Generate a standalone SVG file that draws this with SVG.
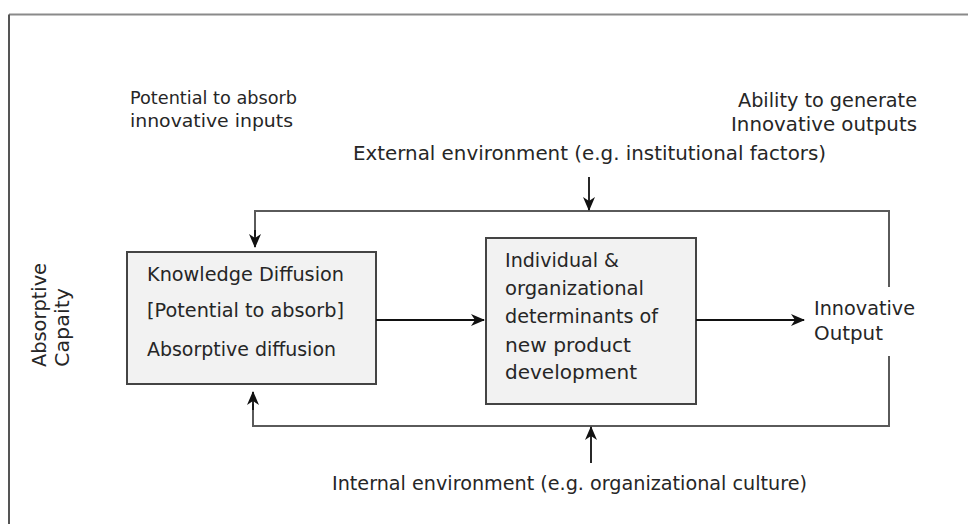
<svg xmlns="http://www.w3.org/2000/svg" width="968" height="524" viewBox="0 0 968 524">
  <defs>
    <style>
      text { font-family: "DejaVu Sans", "Liberation Sans", sans-serif; font-size: 19.2px; fill: #262626; }
      .small { font-size: 18px; }
      .box { fill: #f2f2f2; stroke: #444; stroke-width: 2; }
      .loop { fill: none; stroke: #5a5a5a; stroke-width: 2; }
      .arrow { fill: none; stroke: #111; stroke-width: 1.8; marker-end: url(#head); }
    </style>
    <marker id="head" viewBox="0 0 14 12" refX="13" refY="6" markerWidth="14" markerHeight="12" markerUnits="userSpaceOnUse" orient="auto">
      <path d="M0,0 L14,6 L0,12 L4,6 Z" fill="#111"/>
    </marker>
  </defs>
  <rect width="968" height="524" fill="#fff"/>

  <!-- outer frame -->
  <line x1="9" y1="14.5" x2="968" y2="14.5" stroke="#8a8a8a" stroke-width="2"/>
  <line x1="9" y1="14.5" x2="9" y2="524" stroke="#555" stroke-width="2"/>

  <!-- free labels -->
  <g id="label-inputs">
    <text class="small" x="130" y="104" textLength="167" lengthAdjust="spacingAndGlyphs">Potential to absorb</text>
    <text class="small" x="130" y="127" textLength="163" lengthAdjust="spacingAndGlyphs">innovative inputs</text>
  </g>
  <g id="label-outputs">
    <text x="917" y="107" text-anchor="end" textLength="179" lengthAdjust="spacingAndGlyphs">Ability to generate</text>
    <text x="917" y="131" text-anchor="end" textLength="186" lengthAdjust="spacingAndGlyphs">Innovative outputs</text>
  </g>
  <g id="label-external">
    <text x="353" y="160" textLength="473" lengthAdjust="spacingAndGlyphs">External environment (e.g. institutional factors)</text>
  </g>
  <g id="label-internal">
    <text x="332" y="490" textLength="475" lengthAdjust="spacingAndGlyphs">Internal environment (e.g. organizational culture)</text>
  </g>
  <g id="label-capacity">
    <text transform="translate(46,367) rotate(-90)" textLength="104" lengthAdjust="spacingAndGlyphs">Absorptive</text>
    <text transform="translate(69,367) rotate(-90)" textLength="79" lengthAdjust="spacingAndGlyphs">Capaity</text>
  </g>

  <!-- nodes -->
  <g id="knowledge-diffusion">
    <rect class="box" x="127" y="252" width="249" height="132"/>
    <text x="147" y="281" textLength="197" lengthAdjust="spacingAndGlyphs">Knowledge Diffusion</text>
    <text x="147" y="317" textLength="197" lengthAdjust="spacingAndGlyphs">[Potential to absorb]</text>
    <text x="147" y="356" textLength="189" lengthAdjust="spacingAndGlyphs">Absorptive diffusion</text>
  </g>
  <g id="determinants">
    <rect class="box" x="486" y="238" width="210" height="166"/>
    <text x="505" y="267" textLength="114" lengthAdjust="spacingAndGlyphs">Individual &amp;</text>
    <text x="505" y="295" textLength="139" lengthAdjust="spacingAndGlyphs">organizational</text>
    <text x="505" y="323" textLength="153" lengthAdjust="spacingAndGlyphs">determinants of</text>
    <text x="505" y="352" textLength="126" lengthAdjust="spacingAndGlyphs">new product</text>
    <text x="505" y="379" textLength="132" lengthAdjust="spacingAndGlyphs">development</text>
  </g>
  <g id="innovative-output">
    <text x="814" y="315" textLength="101" lengthAdjust="spacingAndGlyphs">Innovative</text>
    <text x="814" y="340" textLength="69" lengthAdjust="spacingAndGlyphs">Output</text>
  </g>

  <!-- connectors -->
  <g id="connectors">
    <path class="loop" d="M889,287 V211 H255 V236"/>
    <path class="arrow" d="M255,230 V247"/>
    <path class="loop" d="M889,356 V426 H253 V404"/>
    <path class="arrow" d="M253,410 V392"/>
    <line class="arrow" x1="376" y1="320" x2="484" y2="320"/>
    <line class="arrow" x1="696" y1="320" x2="804" y2="320"/>
    <line class="arrow" x1="589" y1="177" x2="589" y2="210"/>
    <line class="arrow" x1="591" y1="463" x2="591" y2="427"/>
  </g>
</svg>
